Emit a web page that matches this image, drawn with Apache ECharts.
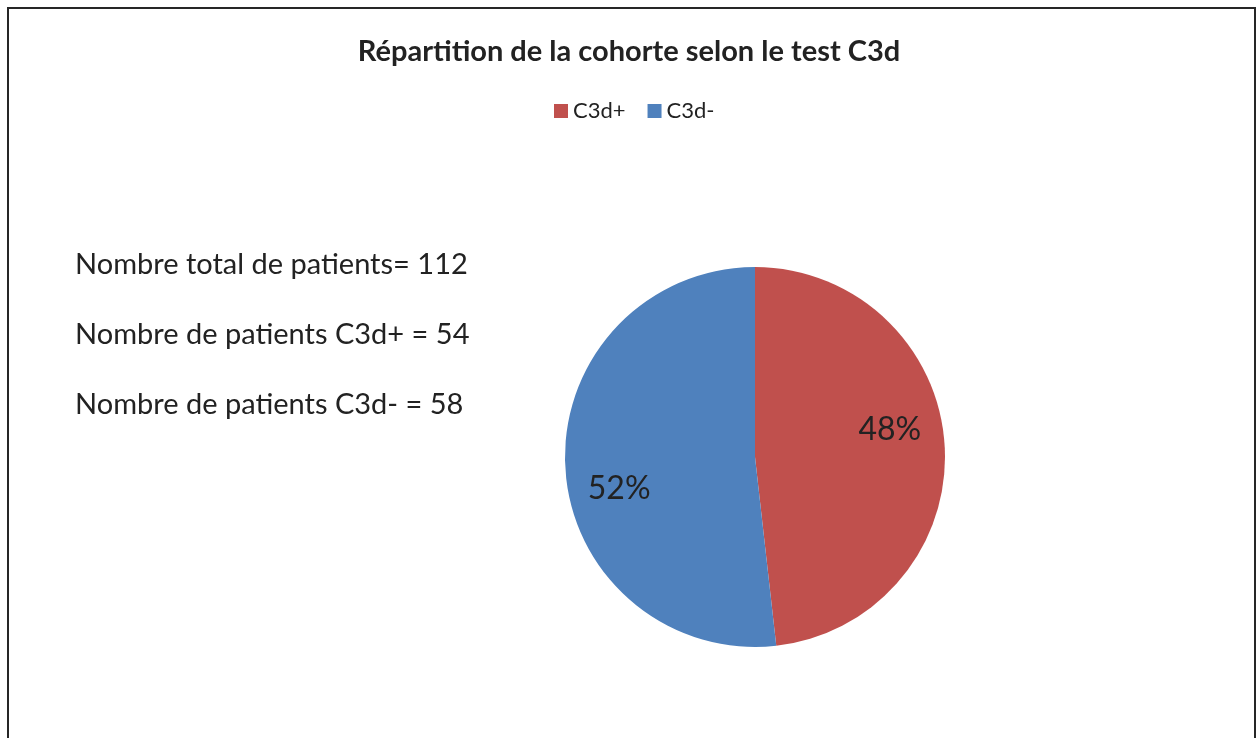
<!DOCTYPE html>
<html>
<head>
<meta charset="utf-8">
<script src="https://cdn.jsdelivr.net/npm/echarts@6/dist/echarts.min.js"></script>
<style>
  html, body { margin: 0; padding: 0; background: #fff; }
  #main { width: 1258px; height: 738px; }
</style>
</head>
<body>
<div id="main"></div>
<script>
// données
var categories = ['C3d+', 'C3d-']
var patients = [54, 58]
var colors = ['#C0504D', '#4F81BD']
var notes = [
  'Nombre total de patients= 112',
  'Nombre de patients C3d+ = 54',
  'Nombre de patients C3d- = 58'
]
// décalage des étiquettes (Excel les place plus loin du centre)
var labelShift = [[37, -22], [-38, 26]]

var myChart = echarts.init(document.getElementById('main'))

var option = {
  backgroundColor: '#fff',
  title: {
    text: 'Répartition de la cohorte selon le test C3d',
    left: 'center',
    top: 32,
    textStyle: { fontFamily: 'Lato', fontWeight: 'bold', fontSize: 29, color: '#222' }
  },
  legend: {
    data: categories,
    left: 554,
    top: 100,
    padding: 0,
    itemWidth: 14,
    itemHeight: 14,
    itemGap: 22,
    icon: 'rect',
    textStyle: { fontFamily: 'Lato', fontSize: 22, color: '#222' }
  },
  graphic: [
    {
      type: 'rect',
      shape: { x: 8, y: 8, width: 1247, height: 760 },
      style: { fill: null, stroke: '#262626', lineWidth: 2 },
      silent: true
    }
  ].concat(notes.map(function (t, i) {
    return {
      type: 'text',
      left: 75,
      top: 250 + i * 70,
      style: { text: t, fontFamily: 'Lato', fontSize: 29, fill: '#222' }
    }
  })),
  series: [
    {
      type: 'pie',
      center: [755, 457],
      radius: 190,
      startAngle: 90,
      clockwise: true,
      percentPrecision: 0,
      data: categories.map(function (c, i) {
        return { name: c, value: patients[i], itemStyle: { color: colors[i] } }
      }),
      label: {
        position: 'inside',
        formatter: '{d}%',
        fontFamily: 'Lato',
        fontSize: 32,
        color: '#222'
      },
      labelLine: { show: false },
      labelLayout: function (params) {
        var s = labelShift[params.dataIndex]
        return { dx: s[0], dy: s[1] }
      },
      itemStyle: { borderWidth: 0 },
      emphasis: { disabled: true }
    }
  ]
}

myChart.setOption(option)
</script>
</body>
</html>
